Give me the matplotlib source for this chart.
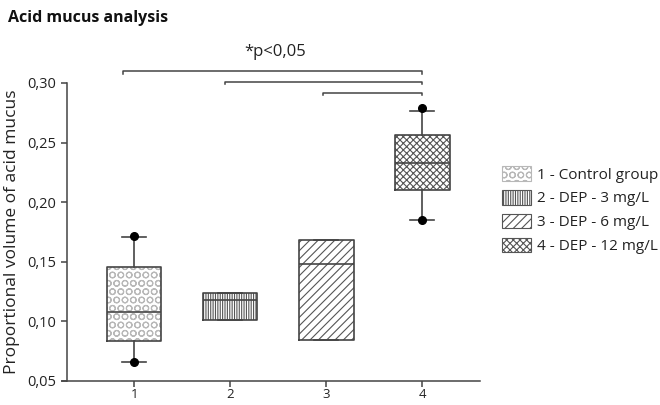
import numpy as np
import matplotlib.pyplot as plt
from matplotlib.patches import Patch
from matplotlib.ticker import FuncFormatter

plt.rcParams['font.family'] = ['Open Sans', 'DejaVu Sans']
plt.rcParams['hatch.linewidth'] = 0.8

# Box statistics
groups = [1, 2, 3, 4]
labels = ["1 - Control group", "2 - DEP - 3 mg/L", "3 - DEP - 6 mg/L", "4 - DEP - 12 mg/L"]
q1 = [0.0837, 0.1008, 0.0848, 0.2100]
med = [0.1077, 0.1179, 0.1485, 0.2327]
q3 = [0.1455, 0.1237, 0.1680, 0.2564]
whislo = [0.0660, 0.1008, 0.0848, 0.1850]
whishi = [0.1705, 0.1237, 0.1680, 0.2765]
dots = [[0.0660, 0.1715], [], [], [0.1850, 0.2787]]
hatches = ['OO', '|||||||', '////', 'xxxxx']
hatch_cols = ['#b8b8b8', '#555555', '#555555', '#555555']

# significance brackets: (left group, right group, height)
brackets = [(0.885, 4, 0.3100), (1.95, 4, 0.3010), (2.97, 4, 0.2920)]

line_col = '#444444'
fig = plt.figure(figsize=(6.6, 4.05), dpi=100)
ax = fig.add_axes([0.094, 0.0593, 0.633, 0.7358])

width = 0.57
for g, lo, hi, h, hc in zip(groups, q1, q3, hatches, hatch_cols):
    ax.bar(g, hi - lo, bottom=lo, width=width, color='white', edgecolor=hc,
           linewidth=0, hatch=h, zorder=2)

stats = []
for i in range(4):
    stats.append(dict(q1=q1[i], med=med[i], q3=q3[i], whislo=whislo[i],
                      whishi=whishi[i], fliers=dots[i]))
ax.bxp(stats, positions=groups, widths=width, patch_artist=False,
       showfliers=True,
       boxprops=dict(color=line_col, linewidth=1.2),
       medianprops=dict(color=line_col, linewidth=1.2),
       whiskerprops=dict(color=line_col, linewidth=1.2),
       capprops=dict(color=line_col, linewidth=1.2),
       capwidths=0.25,
       flierprops=dict(marker='o', markerfacecolor='black', markeredgecolor='black',
                       markersize=5.5),
       zorder=3)

for x0, x1, y in brackets:
    ax.plot([x0, x0, x1, x1], [y - 0.0022, y, y, y - 0.0022], color=line_col,
            linewidth=1.1, clip_on=False)
ax.text(2.47, 0.3195, "*p<0,05", ha='center', va='bottom', fontsize=12, color='#222222')

ax.set_xlim(0.25, 4.6)
ax.set_ylim(0.05, 0.30)
ax.set_xticks(groups)
ax.set_xticklabels([str(g) for g in groups])
ax.set_yticks([0.05, 0.10, 0.15, 0.20, 0.25, 0.30])
ax.yaxis.set_major_formatter(FuncFormatter(lambda v, p: f"{v:.2f}".replace('.', ',')))
ax.spines['top'].set_visible(False)
ax.spines['right'].set_visible(False)
ax.spines['left'].set_position(('data', 0.30))
for s in ['left', 'bottom']:
    ax.spines[s].set_color(line_col)
    ax.spines[s].set_linewidth(1.1)
ax.tick_params(colors=line_col, labelcolor='#222222', labelsize=10.5, length=4, width=1.1)
ax.tick_params(axis='x', pad=1, labelsize=9.5)
ax.set_ylabel("Proportional volume of acid mucus", fontsize=12.5, color='#222222', labelpad=5)

fig.text(0.012, 0.955, "Acid mucus analysis", fontsize=11.5, fontweight='bold',
         ha='left', va='center', color='#111111')

handles = [Patch(facecolor='white', edgecolor=hc, hatch=h, linewidth=0.8)
           for h, hc in zip(hatches, hatch_cols)]
leg = fig.legend(handles, labels, loc='upper left', bbox_to_anchor=(0.752, 0.605),
                 frameon=False, fontsize=11, handlelength=1.9, handleheight=1.1,
                 handletextpad=0.35, labelspacing=0.48, borderaxespad=0)
for t in leg.get_texts():
    t.set_color('#222222')

fig.savefig('out.png', dpi=100)
